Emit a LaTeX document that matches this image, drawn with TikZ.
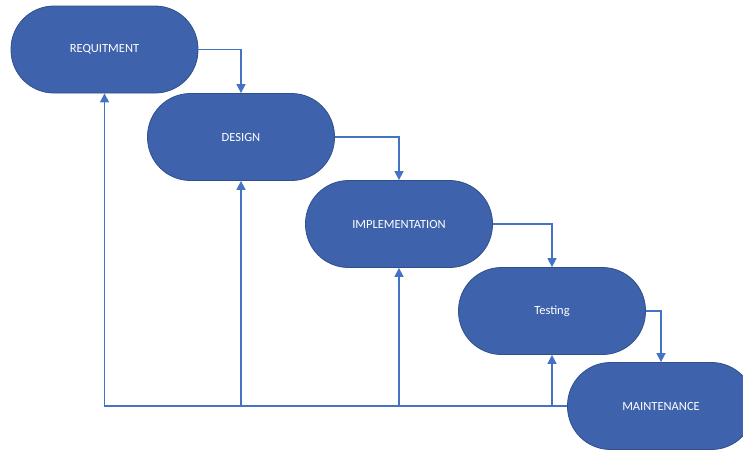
\documentclass[tikz,border=0pt]{standalone}
\usepackage{fontspec}
\setmainfont{Carlito}
\usetikzlibrary{arrows.meta}
\definecolor{phasefill}{RGB}{62,99,172}
\definecolor{phaseedge}{RGB}{47,80,140}
\definecolor{flowblue}{RGB}{68,114,196}
\tikzset{
    phase/.style={draw=phaseedge, fill=phasefill, text=white, line width=0.8pt,
        minimum width=187pt, minimum height=87pt, rounded corners=43pt,
        font=\fontsize{12.5}{15}\selectfont},
    flow/.style={draw=flowblue, line width=1.5pt, -{Triangle[width=9pt,length=9pt]}},
}
\begin{document}
\begin{tikzpicture}[x=1pt, y=-1pt]
    % Page frame
    \useasboundingbox (0,0) rectangle (743,450);
    \clip (0,0) rectangle (743,450);

    % Draw the phases
    \node[phase] (req) at (104.5,49.5) {REQUITMENT};
    \node[phase] (design) at (241,137) {DESIGN};
    \node[phase] (impl) at (399,224) {IMPLEMENTATION};
    \node[phase] (test) at (552,311) {Testing};
    \node[phase] (maint) at (661,406) {MAINTENANCE};

    % Draw the forward steps
    \foreach \a/\b in {req/design, design/impl, impl/test, test/maint} {
        \draw[flow] (\a.east) -| (\b.north);
    }

    % Draw the feedback lines
    \draw[flow] (maint.west) -| (req.south);
    \foreach \n in {design, impl, test} {
        \draw[flow] (maint.west -| \n.south) -- (\n.south);
    }
\end{tikzpicture}
\end{document}
